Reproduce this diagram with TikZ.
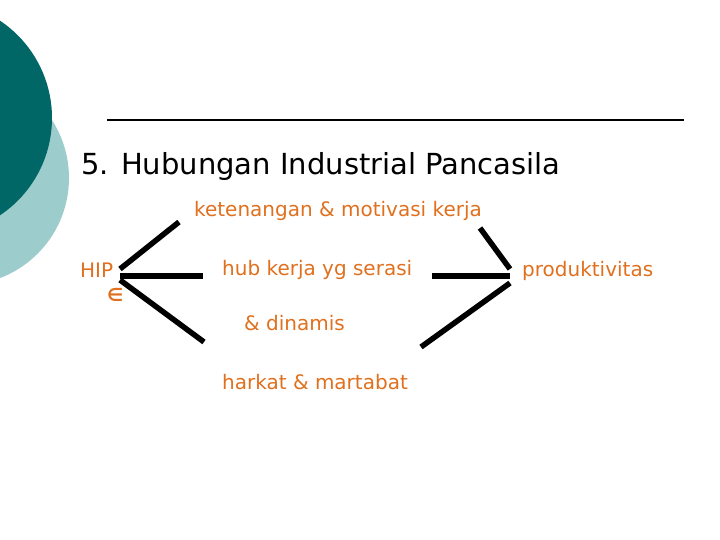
\documentclass[tikz,border=0pt]{standalone}
\usepackage{fontspec}
\setmainfont{DejaVu Sans}
\definecolor{tealdark}{HTML}{006666}
\definecolor{teallight}{HTML}{9CCCCC}
\definecolor{hiporange}{HTML}{E0701E}
\usetikzlibrary{arrows.meta, positioning, calc}
\tikzset{
  lbl/.style={anchor=west, inner sep=0pt, text=hiporange,
              font=\fontsize{20}{24}\selectfont},
  bar/.style={line width=5.5pt}
}

\begin{document}
\begin{tikzpicture}[x=1pt, y=-1pt, >=Latex]
      \useasboundingbox (0,0) rectangle (720,540);
      % Circles on the left
      \fill[teallight] (-38,178) circle(107);
      \fill[tealdark] (-65,118) circle(117);
      % Title
      \draw[line width=1.5pt] (107,120) -- (684,120);
      \node[anchor=west, inner sep=0pt, font=\fontsize{29}{34}\selectfont]
        (title) at (81,166) {5. Hubungan Industrial Pancasila};
      % Labels
      \node[lbl] (hip) at (80,270) {HIP};
      \node[lbl, font=\bfseries\fontsize{18}{20}\selectfont]
        (sym) at (107,295) {∈};
      \node[lbl] (keten) at (194,211) {ketenangan \& motivasi kerja};
      \node[lbl] (hub) at (222,270) {hub kerja yg serasi};
      \node[lbl] (dinamis) at (244,323) {\& dinamis};
      \node[lbl] (harkat) at (222,382) {harkat \& martabat};
      \node[lbl] (prod) at (522,271) {produktivitas};
      % Line ends
      \coordinate (hipA) at (120,269);
      \coordinate (hipB) at (120,276);
      \coordinate (hipC) at (120,280);
      \coordinate (ketenL) at (179,222);
      \coordinate (ketenR) at (480,228);
      \coordinate (hubL) at (203,276);
      \coordinate (hubR) at (432,276);
      \coordinate (harkatL) at (204,342);
      \coordinate (harkatR) at (421,347);
      \coordinate (prodA) at (510,269);
      \coordinate (prodB) at (510,276);
      \coordinate (prodC) at (510,283);
      % Fan out from HIP
      \draw[bar] (hipA) -- (ketenL);
      \draw[bar] (hipB) -- (hubL);
      \draw[bar] (hipC) -- (harkatL);
      % Fan into produktivitas
      \draw[bar] (ketenR) -- (prodA);
      \draw[bar] (hubR) -- (prodB);
      \draw[bar] (harkatR) -- (prodC);
\end{tikzpicture}
\end{document}
